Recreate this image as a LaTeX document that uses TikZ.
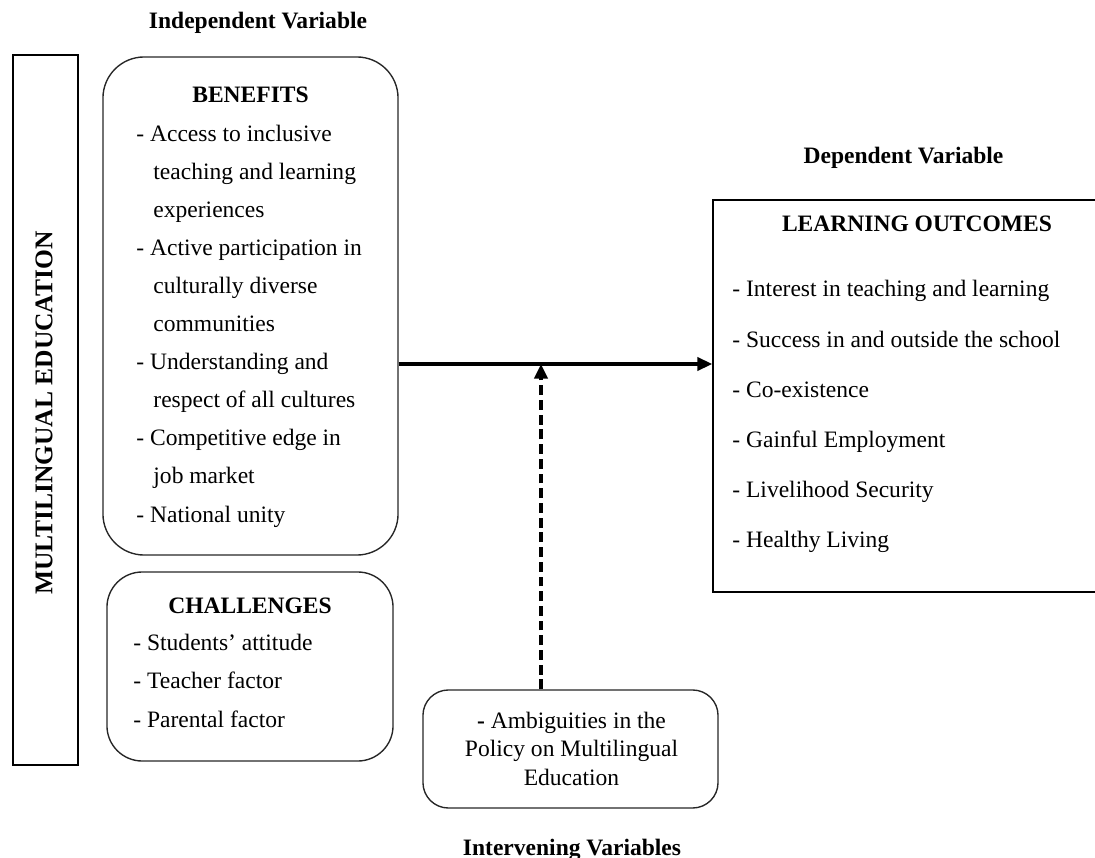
\documentclass[tikz,border=0pt]{standalone}
\usepackage{fontspec}
\setmainfont{Liberation Serif}
\usetikzlibrary{arrows.meta,positioning}
\tikzstyle{roundbox}=[draw=black!85,line width=0.7pt,inner sep=0pt]
\tikzstyle{plainbox}=[draw=black,line width=0.9pt,inner sep=0pt]
\tikzstyle{heading}=[font=\fontsize{12}{14}\selectfont\bfseries,inner sep=0pt,anchor=base]
\tikzstyle{items}=[align=left,inner sep=0pt,anchor=base west]
\tikzstyle{bigarrow}=[line width=1.6pt,-{Triangle[length=7.5pt,width=6.8pt]}]

\begin{document}
\begin{tikzpicture}[x=0.51pt,y=-0.51pt]
    \useasboundingbox (0,0) rectangle (1095,858);

    % boxes
    \node[plainbox,minimum width=33.2pt,minimum height=362.1pt] (mle) at (45.5,410) {};
    \node[roundbox,rounded corners=21pt,minimum width=150.5pt,minimum height=254pt] (benefits) at (250.5,306) {};
    \node[roundbox,rounded corners=18pt,minimum width=145.9pt,minimum height=96.4pt] (challenges) at (250,666.5) {};
    \node[roundbox,rounded corners=13pt,minimum width=150.5pt,minimum height=60.2pt] (ambig) at (570.5,749) {};
    \node[plainbox,minimum width=197.4pt,minimum height=200pt] (outcomes) at (906.5,396) {};

    % variable labels
    \node[heading] (indep) at (258,29) {Independent Variable};
    \node[heading] (dep) at (903.5,163) {Dependent Variable};
    \node[heading] (interv) at (572,855) {Intervening Variables};
    \node[heading,font=\fontsize{13}{15}\selectfont\bfseries,rotate=90,anchor=center] (mletext) at (44,413) {MULTILINGUAL EDUCATION};

    % benefits (anchored at the baseline of the last line)
    \node[heading] (benhead) at (250.5,103) {BENEFITS};
    \node[items,font=\fontsize{12}{19.4}\selectfont] (benlist) at (136,522)
        {- Access to inclusive\\
         \hspace*{8.7pt}teaching and learning\\
         \hspace*{8.7pt}experiences\\
         - Active participation in\\
         \hspace*{8.7pt}culturally diverse\\
         \hspace*{8.7pt}communities\\
         - Understanding and\\
         \hspace*{8.7pt}respect of all cultures\\
         - Competitive edge in\\
         \hspace*{8.7pt}job market\\
         - National unity};

    % challenges
    \node[heading] (chalhead) at (250,613) {CHALLENGES};
    \node[items,font=\fontsize{12}{19.4}\selectfont] (challist) at (133,727)
        {- Students' attitude\\
         - Teacher factor\\
         - Parental factor};

    % intervening
    \node[align=center,inner sep=0pt,anchor=base,font=\fontsize{12}{14.5}\selectfont] (ambigtext) at (571.5,785)
        {\textbf{-} Ambiguities in the\\Policy on Multilingual\\Education};

    % outcomes
    \node[heading] (outhead) at (917,232) {LEARNING OUTCOMES};
    \node[items,font=\fontsize{12}{25.5}\selectfont] (outlist) at (732,547)
        {- Interest in teaching and learning\\
         - Success in and outside the school\\
         - Co-existence\\
         - Gainful Employment\\
         - Livelihood Security\\
         - Healthy Living};

    % connectors
    \coordinate (junction) at (541,364);
    \draw[bigarrow] (benefits.east |- junction) -- (outcomes.west |- junction);
    \draw[bigarrow,dash pattern=on 5pt off 2.5pt] (ambig.north -| junction) -- (junction);
\end{tikzpicture}
\end{document}
